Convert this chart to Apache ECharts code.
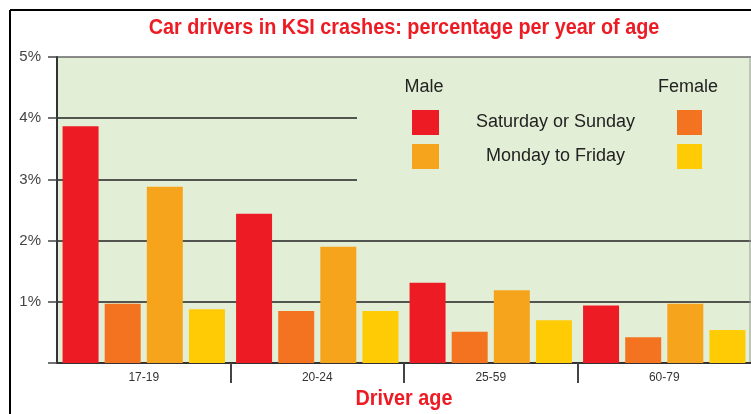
<!DOCTYPE html>
<html>
<head>
<meta charset="utf-8">
<script src="https://cdn.jsdelivr.net/npm/echarts@6/dist/echarts.min.js"></script>
<style>
html, body { margin: 0; padding: 0; background: #fff; }
#main { width: 751px; height: 414px; }
</style>
</head>
<body>
<div id="main"></div>
<script>
// driver age groups
var ages = ['17-19', '20-24', '25-59', '60-79'];
// percentage per year of age
var maleWeekend = [3.87, 2.44, 1.31, 0.94];
var femaleWeekend = [0.97, 0.85, 0.51, 0.42];
var maleWeekday = [2.88, 1.90, 1.19, 0.97];
var femaleWeekday = [0.88, 0.85, 0.70, 0.54];

var plain = "'Liberation Sans', Arial, sans-serif";
var green = '#E3EED6';
var red = '#ED1C24';

var myChart = echarts.init(document.getElementById('main'));
var option = {
	animation: false,
	backgroundColor: '#fff',
	color: [red, '#F47321', '#F7A41D', '#FFCB05'],
	grid: {
		left: 57, right: 0, top: 57, bottom: 51,
		outerBoundsMode: 'none',
		containLabel: false,
		show: true,
		backgroundColor: green,
		borderWidth: 0
	},
	legend: [{
		// male swatches + shared labels
		data: ['Male: Saturday or Sunday', 'Male: Monday to Friday'],
		orient: 'vertical',
		left: 412, top: 110,
		padding: 0,
		icon: 'rect',
		itemWidth: 27, itemHeight: 25, itemGap: 9,
		selectedMode: false,
		formatter: function(name) {
			return name.indexOf('Saturday') >= 0 ? '{a|Saturday or Sunday}' : '{b|Monday to Friday}';
		},
		textStyle: {
			color: '#222', fontFamily: plain, fontSize: 18,
			rich: {
				a: { padding: [0, 0, 0, 32], fontFamily: plain, fontSize: 18, color: '#222' },
				b: { padding: [0, 0, 0, 42], fontFamily: plain, fontSize: 18, color: '#222' }
			}
		}
	}, {
		// female swatches only
		data: ['Female: Saturday or Sunday', 'Female: Monday to Friday'],
		orient: 'vertical',
		left: 677, top: 110,
		padding: 0,
		icon: 'rect',
		itemWidth: 25, itemHeight: 25, itemGap: 9,
		selectedMode: false,
		formatter: function() { return ''; }
	}],
	xAxis: {
		type: 'category',
		data: ages,
		axisLine: { lineStyle: { color: '#333', width: 2 } },
		// only the separators between groups
		axisTick: {
			show: true, length: 20, lineStyle: { color: '#444', width: 2 },
			interval: function(index) { return index > 0 && index < ages.length; }
		},
		axisLabel: { color: '#333', fontFamily: plain, fontSize: 12, margin: 9, interval: 0 }
	},
	yAxis: {
		type: 'value',
		min: 0, max: 5, interval: 1,
		axisLine: { show: true, lineStyle: { color: '#333', width: 2 } },
		axisTick: { show: true, length: 9, lineStyle: { color: '#444', width: 1.5 } },
		axisLabel: {
			color: '#444', fontFamily: plain, fontSize: 15, margin: 16,
			formatter: function(v) { return v === 0 ? '' : v + '%'; }
		},
		splitLine: { lineStyle: { color: ['#222', '#222', '#222', '#222', '#222', '#666'], width: 1.5 } }
	},
	graphic: [
		// title and axis name, squeezed to look like a condensed face
		{ type: 'text', x: 404, y: 28, scaleX: 0.9, style: { text: 'Car drivers in KSI crashes: percentage per year of age', fill: red, font: 'bold 22px ' + plain, textAlign: 'center', textVerticalAlign: 'middle' } },
		{ type: 'text', x: 404, y: 399, scaleX: 0.9, style: { text: 'Driver age', fill: red, font: 'bold 22px ' + plain, textAlign: 'center', textVerticalAlign: 'middle' } },
		// legend panel hides the 3% and 4% lines on the right
		{ type: 'rect', z: 1, shape: { x: 357, y: 66, width: 394, height: 128 }, style: { fill: green } },
		// thin right edge of the plot, and no closing tick under it
		{ type: 'rect', z: 3, shape: { x: 749.5, y: 57, width: 1, height: 305 }, style: { fill: '#999' } },
		{ type: 'rect', z: 3, shape: { x: 749, y: 364, width: 2, height: 22 }, style: { fill: '#fff' } },
		{ type: 'text', z: 5, x: 424, y: 87, style: { text: 'Male', fill: '#222', font: '18px ' + plain, textAlign: 'center', textVerticalAlign: 'middle' } },
		{ type: 'text', z: 5, x: 688, y: 87, style: { text: 'Female', fill: '#222', font: '18px ' + plain, textAlign: 'center', textVerticalAlign: 'middle' } },
		// frame
		{ type: 'line', shape: { x1: 10, y1: 10, x2: 751, y2: 10 }, style: { stroke: '#000', lineWidth: 2 } },
		{ type: 'line', shape: { x1: 10, y1: 10, x2: 10, y2: 414 }, style: { stroke: '#000', lineWidth: 2 } }
	],
	series: [
		{ name: 'Male: Saturday or Sunday', type: 'bar', data: maleWeekend, barWidth: 36, barGap: '17%' },
		{ name: 'Female: Saturday or Sunday', type: 'bar', data: femaleWeekend, barWidth: 36, barGap: '17%' },
		{ name: 'Male: Monday to Friday', type: 'bar', data: maleWeekday, barWidth: 36, barGap: '17%' },
		{ name: 'Female: Monday to Friday', type: 'bar', data: femaleWeekday, barWidth: 36, barGap: '17%' }
	]
};
myChart.setOption(option);
</script>
</body>
</html>
